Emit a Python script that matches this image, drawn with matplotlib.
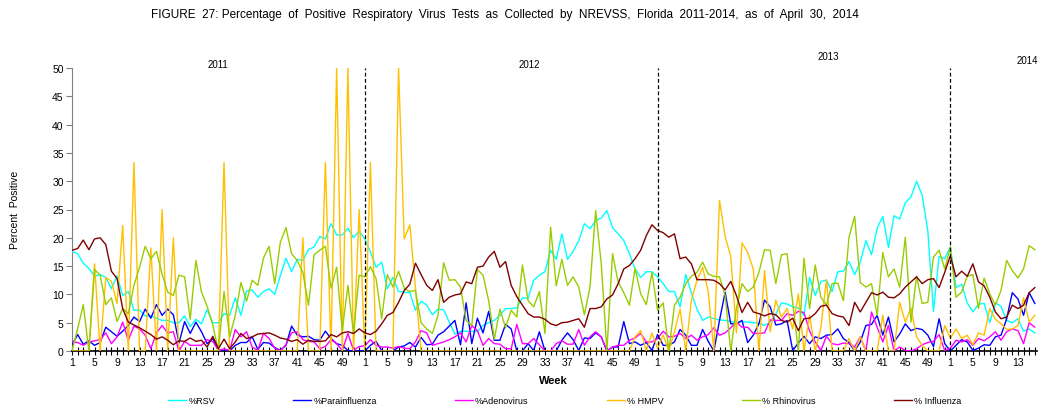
import numpy as np
import matplotlib.pyplot as plt

plt.rcParams['font.family'] = ['Liberation Sans', 'DejaVu Sans']

# week numbers: 2011, 2012, 2013 (52 each) then 2014 weeks 1-16
weeks = list(range(1, 53)) * 3 + list(range(1, 17))
year_starts = [52, 104, 156]
years = ['2011', '2012', '2013', '2014']

rsv = [17.6, 17.2, 15.5, 14.6, 13.2, 13.5, 13.0, 11.0, 13.3, 9.8,
       10.5, 7.2, 7.2, 6.2, 6.2, 5.8, 5.4, 5.4, 5.0, 5.0,
       6.2, 4.3, 5.6, 4.8, 7.3, 5.0, 5.0, 6.6, 6.3, 9.4,
       6.3, 10.6, 10.8, 9.5, 10.5, 11.0, 10.0, 13.3, 16.4, 14.0,
       16.2, 16.0, 17.9, 18.4, 20.2, 19.8, 22.5, 20.5, 20.5, 21.7,
       20.0, 21.2,
       19.8, 17.5, 14.8, 15.7, 11.0, 13.0, 10.5, 10.4, 10.3, 7.2,
       8.8, 8.1, 6.4, 7.4, 7.3, 5.1, 3.0, 3.5, 3.5, 3.5,
       3.4, 4.5, 5.0, 5.4, 6.3, 7.5, 7.5, 7.6, 9.4, 9.3,
       12.5, 13.4, 14.0, 17.8, 16.2, 20.7, 16.2, 17.6, 19.5, 22.5,
       21.6, 23.0, 23.5, 24.8, 21.8, 20.7, 19.5, 17.2, 14.5, 13.0,
       14.0, 14.0,
       13.1, 11.9, 10.5, 10.5, 7.8, 13.5, 10.3, 7.4, 5.4, 6.0,
       5.7, 5.5, 5.4, 5.2, 5.0, 5.2, 5.1, 5.0, 4.9, 4.5,
       5.1, 6.5, 8.5, 8.3, 7.8, 7.6, 6.3, 13.0, 9.8, 12.3,
       12.5, 10.5, 14.0, 14.1, 15.8, 13.5, 15.7, 19.5, 17.0, 21.7,
       23.8, 18.3, 23.9, 23.3, 26.2, 27.2, 30.0, 27.5, 21.2, 7.0,
       16.7, 16.3,
       18.4, 11.2, 11.8, 8.5, 6.9, 8.3, 8.4, 5.0, 8.5, 7.9,
       5.4, 5.0, 5.7, 3.5, 3.9, 3.2]

parainfluenza = [1.1, 2.9, 1.2, 1.8, 1.0, 1.5, 4.2, 3.4, 2.6, 3.5,
                 4.5, 6.0, 5.2, 7.4, 5.8, 8.2, 6.3, 7.4, 6.4, 1.4,
                 5.2, 3.1, 5.1, 3.4, 1.3, 2.2, 0.1, 0.0, 0.0, 1.0,
                 1.5, 1.5, 2.5, 0.3, 1.5, 1.4, 0.6, 0.1, 1.0, 4.4,
                 2.8, 2.5, 2.6, 2.0, 1.9, 3.5, 2.2, 1.3, 1.0, 0.1,
                 0.0, 0.0,
                 0.0, 1.0, 1.7, 0.1, 0.0, 0.0, 0.7, 0.9, 1.5, 0.7,
                 2.4, 1.1, 1.2, 2.8, 3.4, 4.4, 5.4, 1.1, 8.5, 1.3,
                 5.8, 3.2, 7.0, 1.9, 1.9, 4.7, 3.9, 0.0, 0.0, 1.3,
                 0.1, 3.4, 0.0, 0.0, 0.0, 1.9, 3.2, 2.0, 0.1, 2.3,
                 2.2, 3.2, 2.5, 0.0, 0.7, 0.7, 5.2, 1.3, 1.6, 1.0,
                 1.5, 0.1,
                 2.9, 1.0, 1.0, 1.6, 3.8, 2.8, 1.0, 1.0, 3.8, 1.7,
                 0.0, 5.4, 10.4, 4.8, 4.8, 5.4, 1.5, 2.8, 4.8, 9.0,
                 7.8, 4.6, 4.8, 5.4, 0.1, 1.4, 2.6, 1.3, 2.5, 2.2,
                 2.8, 2.9, 3.9, 2.2, 1.5, 0.0, 1.6, 4.5, 4.7, 6.3,
                 2.8, 6.0, 1.6, 3.0, 4.8, 3.6, 4.0, 3.8, 2.8, 0.8,
                 5.7, 1.3,
                 0.0, 1.0, 2.0, 1.6, 0.1, 0.5, 1.1, 1.0, 2.5, 2.8,
                 5.7, 10.3, 9.2, 6.3, 10.3, 8.4]

adenovirus = [1.6, 1.5, 1.0, 1.6, 1.8, 2.0, 3.2, 1.3, 2.5, 5.1,
              1.9, 4.4, 3.9, 2.8, 0.4, 3.2, 4.5, 3.2, 3.4, 0.0,
              1.7, 1.0, 1.0, 1.0, 2.0, 1.7, 0.1, 0.4, 0.1, 3.8,
              2.5, 3.4, 0.7, 0.1, 3.1, 2.2, 0.5, 0.0, 1.1, 3.2,
              3.4, 2.0, 1.7, 1.6, 0.4, 0.8, 2.0, 1.3, 0.1, 3.1,
              0.1, 0.8,
              0.9, 2.0, 1.0, 0.7, 0.7, 0.5, 0.8, 0.5, 0.4, 1.6,
              3.6, 3.2, 1.0, 1.3, 1.6, 2.0, 2.5, 3.2, 1.6, 4.5,
              3.6, 1.0, 2.2, 1.3, 1.2, 0.4, 0.4, 4.7, 1.3, 1.3,
              2.2, 1.1, 0.0, 0.0, 1.3, 1.8, 1.2, 1.2, 3.8, 1.0,
              2.5, 3.4, 2.5, 0.0, 0.7, 1.0, 1.0, 1.9, 2.3, 3.1,
              1.6, 1.6,
              2.2, 3.5, 2.5, 2.6, 3.1, 2.2, 2.8, 1.9, 2.5, 2.9,
              4.1, 2.8, 3.2, 4.1, 5.1, 4.2, 4.2, 3.1, 3.1, 3.2,
              5.5, 5.4, 5.4, 6.6, 6.3, 7.0, 6.8, 3.5, 1.6, 0.1,
              2.6, 1.3, 1.1, 1.4, 1.3, 0.7, 2.5, 0.0, 6.9, 4.2,
              1.6, 4.5, 0.0, 0.7, 0.1, 0.0, 0.4, 1.1, 1.5, 1.7,
              2.9, 0.1,
              0.5, 1.9, 1.6, 2.0, 1.0, 2.2, 1.8, 2.5, 3.4, 1.9,
              3.4, 3.9, 3.6, 1.3, 5.0, 4.2]

hmpv = [0, 0, 0, 0, 15.4, 0, 13.0, 12.3, 8.4, 22.2,
        0, 33.3, 0, 0, 18.2, 0, 25.0, 0, 20.0, 0,
        0, 0, 0, 0, 0, 0, 0, 33.3, 0, 0,
        0, 0, 0, 0, 0, 0, 0, 0, 0, 0,
        0, 20.0, 0, 0, 0, 33.3, 0, 50.0, 0, 50.0,
        0, 25.0,
        0, 33.3, 0, 0, 0, 0, 50.0, 19.8, 22.3, 11.0,
        0, 0, 0, 0, 0, 0, 0, 0, 0, 0,
        0, 0, 0, 0, 0, 0, 0, 0, 0, 0,
        0, 0, 0, 0, 0, 0, 0, 0, 0, 0,
        0, 0, 0, 0, 0, 0, 0, 0, 2.5, 3.6,
        0, 3.2,
        0.5, 2.8, 0.0, 3.4, 7.4, 0.0, 9.0, 12.5, 14.8, 10.5,
        0.0, 26.6, 20.2, 16.7, 3.2, 19.1, 17.4, 14.5, 0.0, 14.2,
        3.4, 9.0, 6.0, 7.5, 3.9, 10.1, 0.0, 6.3, 0.0, 4.1,
        12.6, 0.0, 0.0, 0.0, 2.2, 0.0, 2.5, 0.0, 0.0, 0.0,
        6.3, 0.0, 0.0, 8.6, 5.1, 7.6, 2.5, 1.0, 0.0, 0.0,
        0.0, 4.5,
        2.3, 3.9, 2.2, 2.8, 1.1, 3.2, 2.8, 7.5, 5.6, 4.8,
        3.8, 3.9, 4.5, 9.4, 5.1, 6.3]

rhinovirus = [0.0, 3.9, 8.2, 0.0, 14.4, 13.4, 8.2, 9.4, 5.2, 7.5,
              6.6, 11.6, 14.8, 18.5, 16.3, 17.6, 13.6, 10.4, 9.8, 13.4,
              13.1, 5.6, 16.0, 10.4, 7.9, 4.6, 0.0, 10.5, 2.5, 6.3,
              12.1, 8.8, 12.5, 11.6, 16.4, 18.5, 11.9, 19.2, 21.8, 17.2,
              16.0, 13.9, 8.1, 17.0, 17.8, 18.5, 11.1, 14.8, 3.6, 11.6,
              3.1, 13.4,
              13.1, 14.9, 12.8, 5.7, 13.5, 11.3, 14.1, 11.1, 10.5, 10.7,
              5.0, 3.9, 3.1, 6.3, 15.6, 12.5, 12.6, 11.3, 5.4, 4.5,
              14.4, 13.4, 8.9, 2.1, 7.4, 4.1, 7.2, 6.0, 15.2, 8.9,
              7.8, 10.5, 3.1, 21.9, 11.5, 16.2, 11.6, 13.1, 11.3, 6.4,
              11.3, 24.8, 15.4, 0.0, 17.2, 12.2, 10.3, 8.1, 14.6, 10.1,
              8.2, 13.9,
              7.2, 8.5, 0.0, 8.1, 9.5, 11.9, 13.2, 13.9, 15.7, 13.6,
              13.2, 13.1, 9.8, 0.0, 7.5, 11.9, 10.5, 11.3, 13.9, 17.9,
              17.8, 11.9, 17.0, 17.2, 8.6, 0.0, 16.4, 7.5, 15.2, 9.5,
              8.1, 11.9, 12.0, 8.9, 20.1, 23.8, 12.1, 11.3, 11.9, 6.3,
              17.4, 13.1, 14.5, 11.3, 20.1, 5.1, 13.2, 8.4, 8.6, 16.6,
              17.8, 14.5,
              18.4, 9.5, 10.4, 13.2, 13.5, 7.5, 12.9, 10.1, 8.1, 10.7,
              16.0, 14.2, 12.9, 14.5, 18.6, 17.9]

influenza = [17.8, 18.1, 19.6, 17.9, 19.8, 20.0, 18.8, 14.1, 12.8, 7.5,
             5.1, 4.6, 4.1, 3.5, 2.9, 2.1, 2.5, 1.9, 1.1, 1.8,
             1.7, 2.3, 1.7, 1.9, 0.7, 2.6, 0.4, 2.1, 0.4, 1.6,
             3.1, 2.2, 2.5, 3.0, 3.1, 3.2, 2.8, 2.3, 2.1, 1.7,
             2.0, 1.2, 1.9, 1.7, 1.7, 1.8, 2.9, 2.5, 3.2, 3.4,
             3.1, 3.9,
             3.2, 2.9, 3.5, 4.8, 6.3, 6.8, 8.6, 10.7, 11.8, 15.5,
             13.5, 11.6, 10.7, 12.6, 8.6, 9.5, 9.9, 10.1, 12.2, 11.9,
             14.8, 15.0, 16.6, 17.6, 14.8, 15.8, 11.6, 9.6, 8.1, 6.6,
             6.0, 6.0, 5.6, 4.8, 4.5, 5.0, 5.1, 5.4, 5.7, 4.2,
             7.5, 7.5, 7.8, 9.2, 9.9, 11.9, 14.5, 15.1, 16.3, 17.8,
             20.4, 22.3,
             21.3, 20.9, 20.1, 20.7, 16.3, 16.6, 15.4, 12.6, 12.6, 12.6,
             12.5, 11.9, 10.8, 12.3, 9.8, 6.8, 8.6, 6.9, 6.6, 6.2,
             6.6, 6.4, 5.4, 5.1, 5.8, 3.6, 5.7, 5.8, 6.6, 7.9,
             8.1, 6.6, 6.2, 6.0, 4.5, 8.6, 6.9, 8.6, 10.3, 9.9,
             10.4, 9.5, 9.4, 10.1, 11.3, 12.2, 13.1, 11.9, 12.6, 12.8,
             11.2, 13.9,
             16.8, 13.1, 14.1, 13.2, 15.4, 12.2, 11.5, 9.5, 6.9, 5.7,
             6.0, 8.1, 7.5, 8.1, 10.3, 11.2]

series = [('%RSV', rsv, '#00FFFF'),
          ('%Parainfluenza', parainfluenza, '#0000FF'),
          ('%Adenovirus', adenovirus, '#FF00FF'),
          ('% HMPV', hmpv, '#FFC000'),
          ('% Rhinovirus', rhinovirus, '#99CC00'),
          ('% Influenza', influenza, '#800000')]

for name, vals, c in series:
    assert len(vals) == len(weeks), (name, len(vals))

W, H = 1039, 406
fig = plt.figure(figsize=(W / 100, H / 100), dpi=100)
ax = fig.add_axes([72 / W, 1 - 352 / H, (1036.5 - 72) / W, (352 - 69) / H])

x = np.arange(len(weeks))
for name, vals, c in series:
    ax.plot(x, vals, color=c, lw=1.0, label=name, zorder=3)

for xs in year_starts:
    ax.axvline(xs, color='black', ls=(0, (3, 2)), lw=0.9, zorder=4)

# year captions along the top
year_pos = [(26, 50.7), (81.3, 50.7), (134.3, 52.1)]
for label, (xp, yp) in zip(years[:3], year_pos):
    ax.text(xp, yp, label, ha='center', va='center', fontsize=7, clip_on=False)
# last year sits at the right edge of the figure
fig.text(1038 / W, 1 - 61 / H, years[3], ha='right', va='center', fontsize=7)

ax.set_xlim(0, 171.3)
ax.set_ylim(0, 50)
ax.set_yticks(range(0, 51, 5))
major = [i for i, w in enumerate(weeks) if w % 4 == 1]
ax.set_xticks(major)
ax.set_xticklabels([str(weeks[i]) for i in major])
ax.set_xticks(x, minor=True)
ax.tick_params(axis='x', which='both', direction='inout', length=6,
               width=0.8, color='black', labelsize=7.5, pad=1)
ax.tick_params(axis='y', direction='out', length=4, width=0.8,
               color='#808080', labelsize=7.5, pad=2)

for s in ['top', 'right']:
    ax.spines[s].set_visible(False)
ax.spines['left'].set_color('#808080')
ax.spines['bottom'].set_color('black')
ax.spines['bottom'].set_linewidth(1.2)

fig.text(505 / W, 1 - 15 / H,
         'FIGURE  27: Percentage  of  Positive  Respiratory  Virus  Tests  as  Collected  '
         'by  NREVSS,  Florida  2011-2014,  as  of  April  30,  2014',
         ha='center', va='center', fontsize=8.5)
fig.text(15 / W, 1 - 210 / H, 'Percent  Positive', rotation=90,
         ha='center', va='center', fontsize=7.5)
fig.text(553 / W, 1 - 381 / H, 'Week', ha='center', va='center',
         fontsize=8, fontweight='bold')

fig.legend(loc='center left', bbox_to_anchor=(168 / W, 1 - 402 / H), ncol=6,
           frameon=False, fontsize=6.5, handlelength=2.0, handletextpad=0.25,
           columnspacing=8.65, borderpad=0, borderaxespad=0)

fig.savefig('out.png', dpi=100)
